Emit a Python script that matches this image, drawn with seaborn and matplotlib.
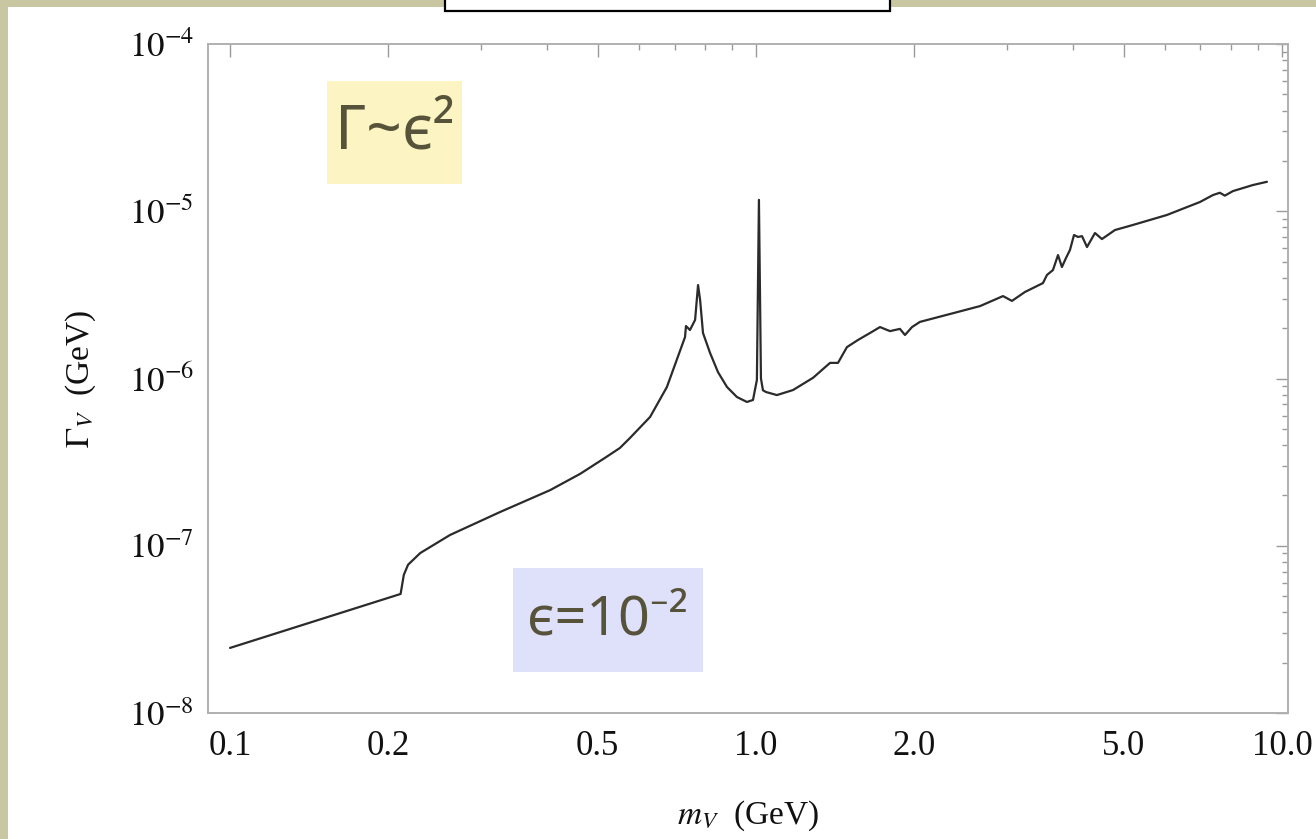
import matplotlib
matplotlib.use("Agg")
import matplotlib.pyplot as plt
from matplotlib.patches import Rectangle
from matplotlib.ticker import FixedLocator, NullFormatter
import seaborn as sns
import pandas as pd

# ---------------- data ----------------
mass_gev = [0.100, 0.211, 0.214, 0.218, 0.230, 0.262, 0.326, 0.406, 0.463, 0.516,
            0.551, 0.576, 0.629, 0.677, 0.733, 0.736, 0.749, 0.766, 0.776, 0.783,
            0.793, 0.818, 0.847, 0.881, 0.920, 0.961, 0.987, 1.004, 1.013, 1.022,
            1.031, 1.045, 1.096, 1.176, 1.284, 1.383, 1.432, 1.489, 1.563, 1.647,
            1.721, 1.798, 1.878, 1.920, 1.980, 2.050, 2.338, 2.667, 2.949, 3.067,
            3.246, 3.513, 3.575, 3.670, 3.752, 3.817, 3.885, 3.954, 4.024, 4.095,
            4.168, 4.260, 4.411, 4.548, 4.814, 5.209, 6.044, 6.986, 7.394, 7.620,
            7.790, 8.070, 8.810, 9.365]
width_gev = [2.45e-8, 5.15e-8, 6.7e-8, 7.7e-8, 9.05e-8, 1.16e-7, 1.59e-7, 2.15e-7, 2.69e-7, 3.35e-7,
             3.84e-7, 4.41e-7, 5.89e-7, 8.89e-7, 1.77e-6, 2.06e-6, 1.95e-6, 2.24e-6, 3.62e-6, 2.95e-6,
             1.87e-6, 1.42e-6, 1.09e-6, 8.89e-7, 7.75e-7, 7.24e-7, 7.44e-7, 9.8e-7, 1.17e-5, 1.0e-6,
             8.5e-7, 8.3e-7, 7.96e-7, 8.53e-7, 1.01e-6, 1.24e-6, 1.24e-6, 1.54e-6, 1.70e-6, 1.87e-6,
             2.03e-6, 1.92e-6, 1.98e-6, 1.82e-6, 2.03e-6, 2.18e-6, 2.43e-6, 2.71e-6, 3.11e-6, 2.91e-6,
             3.29e-6, 3.72e-6, 4.16e-6, 4.45e-6, 5.47e-6, 4.64e-6, 5.25e-6, 5.87e-6, 7.21e-6, 7.02e-6,
             7.10e-6, 6.11e-6, 7.41e-6, 6.82e-6, 7.72e-6, 8.28e-6, 9.50e-6, 1.136e-5, 1.25e-5, 1.29e-5,
             1.24e-5, 1.32e-5, 1.435e-5, 1.50e-5]

x_ticks = [0.1, 0.2, 0.5, 1.0, 2.0, 5.0, 10.0]
x_tick_labels = ["0.1", "0.2", "0.5", "1.0", "2.0", "5.0", "10.0"]
x_minor_ticks = [0.3, 0.4, 0.6, 0.7, 0.8, 0.9, 3, 4, 6, 7, 8, 9]
y_ticks = [1e-8, 1e-7, 1e-6, 1e-5, 1e-4]
y_tick_labels = [r"$10^{-8}$", r"$10^{-7}$", r"$10^{-6}$", r"$10^{-5}$", r"$10^{-4}$"]
y_minor_ticks = [k * 10.0 ** e for e in (-8, -7, -6, -5) for k in range(2, 10)]

label_gamma = "Γ~ϵ²"
label_eps = "ϵ=10⁻²"

df = pd.DataFrame({"m": mass_gev, "gamma": width_gev})

# ---------------- figure ----------------
sns.set_theme(style="white")
plt.rcParams["mathtext.fontset"] = "stix"
plt.rcParams["font.family"] = ["Liberation Serif", "DejaVu Serif"]

W, H = 1316, 839
fig = plt.figure(figsize=(W / 100, H / 100), dpi=100)
fig.patch.set_facecolor("#c9c7a2")

# white slide panel
fig.add_artist(Rectangle((8 / W, 0), 1, 1 - 7 / H, transform=fig.transFigure,
                         facecolor="white", edgecolor="none", zorder=-2))
# title box at the top (cut off)
fig.add_artist(Rectangle((445 / W, 1 - 11 / H), (890 - 445) / W, 30 / H,
                         transform=fig.transFigure, facecolor="white",
                         edgecolor="black", lw=1.6, zorder=5))

ax = fig.add_axes([208 / W, 1 - 713 / H, (1288 - 208) / W, (713 - 44) / H])
ax.set_facecolor("white")

sns.lineplot(data=df, x="m", y="gamma", ax=ax, color="#2b2b2b", lw=1.6,
             estimator=None, sort=False)

ax.set_xscale("log")
ax.set_yscale("log")
ax.set_xlim(0.0908, 10.27)
ax.set_ylim(1e-8, 1e-4)

ax.xaxis.set_major_locator(FixedLocator(x_ticks))
ax.set_xticklabels(x_tick_labels)
ax.xaxis.set_minor_locator(FixedLocator(x_minor_ticks))
ax.xaxis.set_minor_formatter(NullFormatter())
ax.yaxis.set_major_locator(FixedLocator(y_ticks))
ax.set_yticklabels(y_tick_labels)
ax.yaxis.set_minor_locator(FixedLocator(y_minor_ticks))
ax.yaxis.set_minor_formatter(NullFormatter())

ax.tick_params(which="both", direction="in", top=True, right=True,
               color="#9a9a9a")
ax.tick_params(which="major", length=9, width=1.0)
ax.tick_params(which="minor", length=4, width=1.0)
ax.tick_params(axis="x", which="major", labelsize=25, pad=12, labelcolor="#111111")
ax.tick_params(axis="y", which="major", labelsize=25, pad=10, labelcolor="#111111")
for s in ax.spines.values():
    s.set_color("#b0b0b0")
    s.set_linewidth(1.4)

ax.set_xlabel(r"$m_V$  (GeV)", fontsize=24, labelpad=26, color="#111111")
ax.set_ylabel(r"$\Gamma_V$  (GeV)", fontsize=24, labelpad=22, color="#111111")

# annotation boxes
def note_box(x0, y0, x1, y1, face, text, size):
    fig.add_artist(Rectangle((x0 / W, 1 - y1 / H), (x1 - x0) / W, (y1 - y0) / H,
                             transform=fig.transFigure, facecolor=face,
                             edgecolor="none", zorder=3))
    fig.text((x0 + x1) / 2 / W, 1 - (y0 + y1) / 2 / H, text, ha="center",
             va="center", fontsize=size, color="#57523a",
             family=["Noto Sans", "DejaVu Sans"], zorder=4)

note_box(327, 81, 462, 184, "#fcf4c2", label_gamma, 45)
note_box(513, 568, 703, 672, "#dfe1fb", label_eps, 40)

fig.savefig("out.png", dpi=100, facecolor=fig.get_facecolor())
